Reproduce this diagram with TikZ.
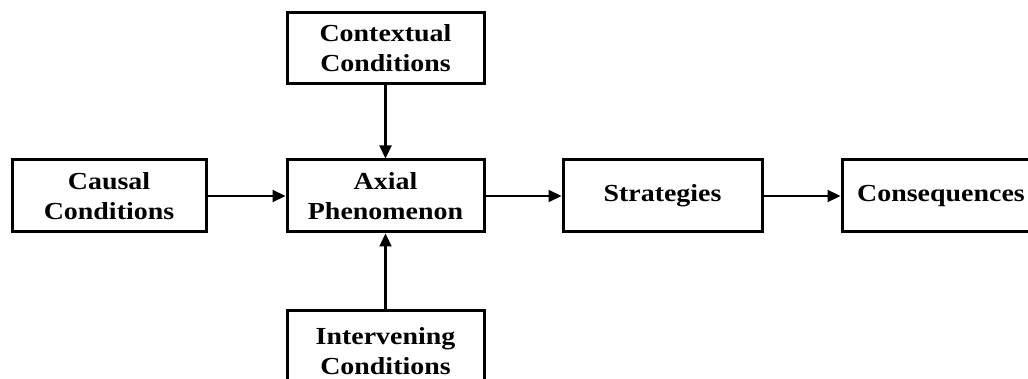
\documentclass[tikz,border=0pt]{standalone}
\usepackage{fontspec}
\setmainfont{Liberation Serif}[FakeStretch=1.14]
\usetikzlibrary{arrows.meta,shadows}
\begin{document}
\begin{tikzpicture}[x=1pt,y=-1pt,
  box/.style={draw=black,line width=3pt,fill=white,align=center,inner sep=0pt,
    font=\fontsize{24.5}{30}\selectfont\bfseries,
    drop shadow={shadow xshift=1.5pt,shadow yshift=-1.5pt,fill=black!40,opacity=0.7}},
  arr/.style={line width=2.2pt,-{Triangle[length=13pt,width=12pt]}}]
\useasboundingbox (0,0) rectangle (1028,379);
\clip (0,0) rectangle (1028,379);
\fill[white] (0,0) rectangle (1028,379);
\node[box,minimum width=194pt,minimum height=72pt] (causal) at (109,196) {Causal\\Conditions};
\node[box,minimum width=197pt,minimum height=72pt] (axial) at (385.5,196) {Axial\\Phenomenon};
\node[box,minimum width=197pt,minimum height=71pt] (context) at (385.5,48.5) {Contextual\\Conditions};
\node[box,minimum width=199pt,minimum height=72pt] (strat) at (662.5,196) {Strategies};
\node[box,minimum width=198pt,minimum height=72pt] (cons) at (941,196) {Consequences};
\node[box,minimum width=197pt,minimum height=80pt] (interv) at (385.5,351) {Intervening\\Conditions};
\draw[arr] (causal.east) -- (axial.west);
\draw[arr] (axial.east) -- (strat.west);
\draw[arr] (strat.east) -- (cons.west);
\draw[arr] (context.south) -- (axial.north);
\draw[arr] (interv.north) -- (axial.south);
\end{tikzpicture}
\end{document}
